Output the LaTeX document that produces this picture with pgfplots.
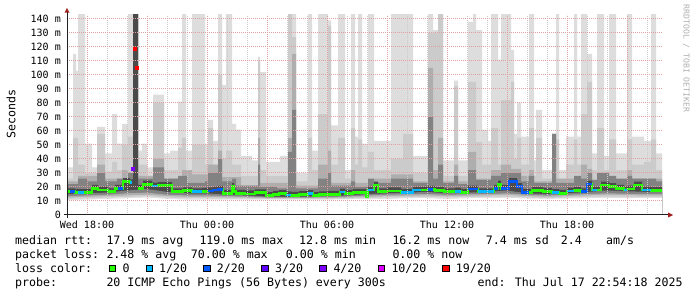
\documentclass[border=0pt]{standalone}
\usepackage{fontspec}
\setmainfont{DejaVu Sans Mono}
\usepackage{pgfplots}
\pgfplotsset{compat=1.18}
\usepackage{pgfplotstable}

\definecolor{sA}{HTML}{DDDDDD}
\definecolor{sB}{HTML}{CBCBCB}
\definecolor{sC}{HTML}{AEAEAE}
\definecolor{sD}{HTML}{828282}
\definecolor{sE}{HTML}{4A4A4A}
\definecolor{mgrid}{HTML}{E0A0A0}
\definecolor{ngrid}{HTML}{CACACA}
\definecolor{l0}{HTML}{26FF00}
\definecolor{l1}{HTML}{00B8FF}
\definecolor{l2}{HTML}{0059FF}
\definecolor{l3}{HTML}{5E00FF}
\definecolor{l4}{HTML}{7E00FF}
\definecolor{l10}{HTML}{DD00FF}
\definecolor{l19}{HTML}{FF0000}
\definecolor{axcol}{HTML}{202020}
\definecolor{arrcol}{HTML}{A02020}
\definecolor{wmcol}{HTML}{B0B0B0}

\newcommand\lfont{\fontsize{11.6bp}{13.9bp}\selectfont}
\newcommand\tfont{\fontsize{10bp}{12bp}\selectfont}

% lower edges of the smoke bands (ms), hourly
\pgfplotstableread{
h b4 b3 b2 b1 b0
-1 15.0 13.5 12.5 11.5 10.5
0 15.5 14.0 13.0 12.0 11.0
1 16.0 14.5 13.5 12.5 11.5
2 17.5 15.5 14.0 13.0 12.0
3 18.5 16.0 14.5 13.5 12.5
4 16.5 14.5 13.5 12.5 11.5
5 15.5 14.0 13.0 12.0 11.0
6 15.5 14.0 13.0 12.0 11.0
7 14.5 13.5 12.5 11.8 11.0
8 14.0 13.2 12.5 11.8 11.0
9 13.2 12.6 12.0 11.5 11.0
10 13.0 12.5 12.0 11.5 11.0
11 13.2 12.6 12.0 11.5 11.0
12 13.5 12.8 12.2 11.6 11.0
13 14.0 13.2 12.5 11.8 11.2
14 15.0 14.0 13.0 12.2 11.5
15 15.5 14.5 13.5 12.5 11.5
16 16.0 14.8 13.8 12.8 12.0
17 16.5 15.0 14.0 13.0 12.0
18 15.5 14.5 13.5 12.5 11.5
19 16.0 14.8 13.8 12.8 12.0
20 16.5 15.0 14.0 13.0 12.0
21 17.5 15.5 14.5 13.2 12.2
22 15.5 14.5 13.5 12.5 11.8
23 15.0 14.0 13.0 12.2 11.5
24 15.5 14.5 13.5 12.5 11.8
25 16.5 15.0 14.0 13.0 12.0
26 17.5 15.5 14.5 13.2 12.2
27 17.0 15.2 14.2 13.0 12.0
28 16.5 15.0 14.0 13.0 12.0
28.75 16.5 15.0 14.0 13.0 12.0
}\bottom

\begin{document}
\begin{tikzpicture}
\fill[white] (0,0) rectangle (697bp,297bp);
\path[use as bounding box] (0,0) rectangle (697bp,297bp);
\begin{axis}[
  at={(67bp,82bp)}, anchor=south west,
  scale only axis, width=595bp, height=200bp,
  xmin=-1, xmax=28.75, ymin=0, ymax=142.857,
  axis on top,
  axis line style={draw=none},
  tick style={draw=none},
  xtick={0,6,12,18,24},
  xticklabels={Wed 18:00,Thu 00:00,Thu 06:00,Thu 12:00,Thu 18:00},
  extra x ticks={3,9,15,21,27},
  extra x tick labels={},
  extra x tick style={grid=major},
  minor xtick={-1,1,2,4,5,7,8,10,11,13,14,16,17,19,20,22,23,25,26,28},
  ytick={0,10,...,140},
  yticklabels={0,10 m,20 m,30 m,40 m,50 m,60 m,70 m,80 m,90 m,100 m,110 m,120 m,130 m,140 m},
  xmajorgrids, xminorgrids, ymajorgrids,
  major grid style={draw=mgrid, line width=1bp, dash pattern=on 1bp off 1bp},
  minor grid style={draw=ngrid, line width=1bp, dash pattern=on 1bp off 1bp},
  xticklabel style={font=\tfont, anchor=base, inner sep=0pt, yshift=-13.5bp},
  yticklabel style={font=\tfont, anchor=east, inner sep=0pt, xshift=-6bp},
]
% lightest smoke (highest pings)
\addplot[const plot, fill=sA, draw=none] coordinates {
(-1.00,34) (-0.70,115) (-0.55,103) (-0.45,145) (-0.10,51) (0.25,34) (0.50,63) (0.90,44) (1.25,72) (1.50,51) (1.75,65) (2.05,145) (2.55,46) (2.75,51) (3.00,34) (3.30,86) (3.85,44) (4.15,46) (4.55,81) (4.75,145) (4.95,46) (5.25,145) (5.90,51) (6.05,68) (6.30,53) (6.55,145) (6.75,93) (6.95,145) (7.25,65) (7.45,61) (7.70,42) (8.25,39) (8.55,113) (8.65,102) (8.95,38) (9.65,42) (10.05,145) (10.45,30) (11.05,145) (11.25,46) (11.55,145) (12.05,139) (12.20,64) (12.55,145) (12.90,32) (13.20,145) (13.40,56) (13.55,145) (13.75,51) (14.05,145) (14.35,53) (15.20,145) (16.30,42) (17.05,145) (17.30,132) (17.55,145) (17.80,39) (18.35,96) (18.55,39) (19.05,138) (19.30,145) (19.45,132) (19.75,61) (20.05,53) (20.20,145) (20.55,111) (20.70,145) (21.20,118) (21.35,58) (21.50,80) (21.70,56) (22.10,145) (22.35,39) (22.45,75) (22.75,32) (23.25,58) (23.45,145) (23.60,32) (23.95,56) (24.35,145) (24.50,56) (24.70,145) (25.00,115) (25.25,44) (25.50,145) (25.85,42) (26.10,145) (26.45,44) (27.00,145) (27.25,56) (27.85,53) (28.20,145) (28.45,44) (28.75,44)
} \closedcycle;
\addplot[const plot, fill=sB, draw=none] coordinates {
(-1.00,26) (-0.70,55) (-0.45,36) (-0.10,30) (0.50,58) (0.90,31) (1.25,38) (1.50,32) (1.75,50) (2.05,56) (2.30,145) (2.55,36) (3.00,28) (3.30,80) (3.85,32) (4.55,48) (4.75,55) (4.95,32) (5.25,50) (5.90,36) (6.05,62) (6.30,36) (6.55,100) (6.75,40) (6.95,46) (7.25,36) (7.70,28) (8.55,110) (8.65,32) (8.95,28) (10.05,145) (10.25,127) (10.45,24) (11.05,55) (11.25,32) (11.55,72) (12.05,135) (12.20,36) (12.55,55) (12.90,26) (13.20,62) (13.40,36) (13.55,54) (13.75,34) (14.05,45) (14.35,32) (15.20,40) (15.80,58) (16.30,30) (17.05,130) (17.55,145) (17.80,28) (18.35,92) (18.55,28) (19.05,95) (19.45,52) (19.75,36) (20.20,62) (20.55,36) (20.70,82) (21.20,95) (21.35,40) (21.50,55) (21.70,36) (22.10,62) (22.35,28) (22.45,55) (22.75,26) (23.25,58) (23.45,54) (23.60,26) (23.95,36) (24.35,54) (24.50,36) (24.70,72) (25.00,95) (25.25,32) (25.50,62) (25.85,32) (26.10,54) (26.45,32) (27.00,54) (27.25,36) (27.85,38) (28.20,54) (28.45,32) (28.75,32)
} \closedcycle;
\addplot[const plot, fill=sC, draw=none] coordinates {
(-1.00,24) (-0.45,28) (0.50,36) (0.90,26) (1.75,32) (2.05,28) (2.30,145) (2.55,28) (3.30,40) (3.85,26) (4.75,32) (5.25,29) (6.05,36) (6.55,46) (6.75,27) (7.70,21) (8.55,55) (8.65,23) (10.05,55) (10.25,115) (10.45,21) (11.55,36) (12.05,46) (12.20,23) (13.20,32) (13.40,23) (14.35,26) (15.20,29) (16.30,24) (17.05,105) (17.30,32) (17.55,55) (17.80,24) (18.35,36) (18.55,24) (19.05,45) (19.45,26) (20.20,32) (20.70,36) (21.20,33) (21.70,28) (22.10,32) (22.35,24) (23.25,58) (23.45,26) (24.70,36) (25.00,33) (25.25,25) (27.00,32) (27.25,26) (28.75,26)
} \closedcycle;
\addplot[const plot, fill=sD, draw=none] coordinates {
(-1.00,22) (-0.45,26) (0.00,24) (0.50,30) (0.90,24) (1.50,26) (2.05,30) (2.30,145) (2.55,26) (3.30,34) (3.85,26) (4.55,28) (5.00,23) (5.90,24) (6.05,30) (6.55,40) (6.75,24) (7.25,26) (7.45,21) (8.55,36) (8.65,20) (9.50,19) (10.05,45) (10.25,75) (10.45,19) (11.55,26) (12.05,30) (12.20,21) (13.20,24) (13.40,20) (14.05,26) (14.35,23) (15.20,26) (16.30,23) (17.05,70) (17.30,26) (17.55,36) (17.80,23) (18.35,28) (18.55,22) (19.05,32) (19.45,25) (20.20,28) (20.70,30) (21.20,30) (21.70,24) (22.10,28) (22.35,23) (23.25,58) (23.45,23) (24.35,28) (24.70,26) (25.00,30) (25.25,25) (25.50,30) (26.10,28) (26.45,26) (27.00,28) (27.25,26) (28.20,26) (28.45,24) (28.75,24)
} \closedcycle;
\addplot[const plot, fill=sE, draw=none] coordinates {
(-1.00,19.1) (-0.60,18.4) (-0.10,18.5) (0.25,21.5) (0.55,20.3) (1.05,19.1) (1.40,21.5) (1.80,26.3) (2.15,25.5) (2.30,145) (2.55,21.5) (2.80,24.5) (3.25,23.2) (3.55,23.5) (4.25,19.1) (4.80,19.8) (5.25,19.1) (5.75,19.3) (6.05,19.7) (6.30,20.3) (6.55,20.8) (6.80,17.9) (7.25,22.7) (7.35,19.1) (7.45,17.9) (7.90,17.5) (8.40,18.3) (8.95,16.3) (9.30,17.2) (9.60,17.7) (9.95,16.8) (10.20,16.5) (10.60,17.1) (11.05,17.7) (11.30,16.3) (11.60,16.9) (12.05,17.2) (12.65,18.9) (12.90,17.9) (13.30,18.4) (13.95,15.6) (14.05,20.3) (14.35,23.9) (14.55,19.1) (15.00,19.7) (15.70,18.7) (16.30,20.3) (17.05,20.8) (17.40,20.1) (17.85,19.1) (18.40,19.5) (18.70,18.7) (19.05,21.0) (19.55,19.1) (20.35,21.5) (20.55,24.5) (20.70,21.5) (21.10,26.3) (21.50,22.7) (21.75,18.7) (22.25,19.9) (22.80,19.3) (23.25,18.4) (23.60,17.9) (24.00,19.6) (24.35,20.1) (24.70,19.1) (25.00,24.6) (25.25,20.3) (25.70,23.9) (26.10,22.7) (26.45,21.5) (26.85,20.3) (27.00,21.0) (27.35,23.9) (27.75,20.3) (28.20,19.9) (28.75,19.9)
} \closedcycle;
% lower edges of the smoke
\addplot[fill=sD, draw=none] table[x=h, y=b4] {\bottom} \closedcycle;
\addplot[fill=sC, draw=none] table[x=h, y=b3] {\bottom} \closedcycle;
\addplot[fill=sB, draw=none] table[x=h, y=b2] {\bottom} \closedcycle;
\addplot[fill=sA, draw=none] table[x=h, y=b1] {\bottom} \closedcycle;
\addplot[fill=white, draw=none] table[x=h, y=b0] {\bottom} \closedcycle;
% median rtt, 0 loss
\addplot[const plot, draw=l0, line width=2.8bp] coordinates {
(-1.00,16.6) (-0.60,15.9) (-0.10,16.0) (0.25,19.0) (0.55,17.8) (1.05,16.6) (1.40,19.0) (1.80,23.8) (2.15,23.0) (2.25,23.0)
};
\addplot[const plot, draw=l0, line width=2.8bp] coordinates {
(2.55,19.0) (2.80,22.0) (3.25,20.7) (3.55,21.0) (4.25,16.6) (4.80,17.3) (5.25,16.6) (5.75,16.8) (6.05,17.2) (6.30,17.8) (6.55,18.3) (6.80,15.4) (7.25,20.2) (7.35,16.6) (7.45,15.4) (7.90,15.0) (8.40,15.8) (8.95,13.8) (9.30,14.7) (9.60,15.2) (9.95,14.3) (10.20,14.0) (10.60,14.6) (11.05,15.2) (11.30,13.8) (11.60,14.4) (12.05,14.7) (12.65,16.4) (12.90,15.4) (13.30,15.9) (13.95,13.1) (14.05,17.8) (14.35,21.4) (14.55,16.6) (15.00,17.2) (15.70,16.2) (16.30,17.8) (17.05,18.3) (17.40,17.6) (17.85,16.6) (18.40,17.0) (18.70,16.2) (19.05,18.5) (19.55,16.6) (20.35,19.0) (20.55,22.0) (20.70,19.0) (21.10,23.8) (21.50,20.2) (21.75,16.2) (22.25,17.4) (22.80,16.8) (23.25,15.9) (23.60,15.4) (24.00,17.1) (24.35,17.6) (24.70,16.6) (25.00,22.1) (25.25,17.8) (25.70,21.4) (26.10,20.2) (26.45,19.0) (26.85,17.8) (27.00,18.5) (27.35,21.4) (27.75,17.8) (28.20,17.4) (28.75,17.4)
};
% median rtt, 1/20 loss
\addplot[draw=l1, line width=2.8bp, unbounded coords=jump] coordinates {
(-0.45,15.9) (-0.15,15.9) (0,nan)
(2.15,23.0) (2.25,23.0) (2.3,nan)
(3.25,20.7) (3.55,20.7) (3.6,nan)
(5.25,16.6) (5.75,16.6) (5.8,nan)
(9.95,14.3) (10.20,14.3) (10.3,nan)
(11.05,15.2) (11.30,15.2) (11.4,nan)
(12.65,16.4) (12.90,16.4) (13.0,nan)
(14.05,17.8) (14.35,17.8) (14.4,nan)
(15.70,16.2) (16.30,16.2) (16.30,17.8) (16.70,17.8) (16.8,nan)
(18.40,17.0) (18.70,17.0) (18.8,nan)
(19.55,16.6) (20.35,16.6) (20.4,nan)
(23.25,15.9) (23.60,15.9) (23.7,nan)
(24.00,17.1) (24.35,17.1) (24.4,nan)
(25.25,17.8) (25.50,17.8) (25.6,nan)
(26.85,17.8) (27.00,17.8) (27.1,nan)
(27.75,17.8) (28.20,17.8)
};
% median rtt, 2/20 loss
\addplot[draw=l2, line width=2.8bp, unbounded coords=jump] coordinates {
(-0.85,16.6) (-0.60,16.6) (-0.5,nan)
(1.55,19.0) (1.80,19.0) (1.9,nan)
(6.05,17.2) (6.30,17.2) (6.30,17.8) (6.55,17.8) (6.55,18.3) (6.80,18.3) (6.9,nan)
(17.05,18.3) (17.30,18.3) (17.4,nan)
(19.05,18.5) (19.55,18.5) (19.6,nan)
(20.35,19.0) (20.55,19.0) (20.6,nan)
(20.70,19.0) (21.10,19.0) (21.10,23.8) (21.50,23.8) (21.50,20.2) (21.75,20.2) (21.75,16.2) (22.10,16.2) (22.2,nan)
(24.70,16.6) (25.00,16.6) (25.00,22.1) (25.25,22.1)
};
% isolated high-loss medians
\addplot[only marks, mark=square*, mark size=1.5bp, color=l19] coordinates {(2.37,119) (2.50,105)};
\addplot[only marks, mark=square*, mark size=1.3bp, color=l4] coordinates {(2.28,33)};
\end{axis}

% axes
\draw[axcol, line width=1bp] (64bp,82bp) -- (668bp,82bp);
\fill[arrcol] (668bp,84.5bp) -- (673bp,82bp) -- (668bp,79.5bp) -- cycle;
\draw[axcol, line width=1bp] (67bp,79bp) -- (67bp,284.5bp);
\fill[arrcol] (64.5bp,284.3bp) -- (67bp,289bp) -- (69.5bp,284.3bp) -- cycle;

% y label and watermark
\node[rotate=90, font=\lfont, anchor=center, inner sep=0pt] at (11bp,183bp) {Seconds};
\node[rotate=-90, font=\fontsize{8.1bp}{9bp}\selectfont, text=wmcol, anchor=center, inner sep=0pt] at (686.3bp,238.5bp) {RRDTOOL / TOBI OETIKER};

% legend lines
\begin{scope}[every node/.style={anchor=base west, inner sep=0pt, font=\lfont}]
\node at (15bp,52bp) {median rtt:};
\node at (106.3bp,52bp) {17.9 ms avg};
\node at (199.3bp,52bp) {119.0 ms max};
\node at (299bp,52bp) {12.8 ms min};
\node at (392.3bp,52bp) {16.2 ms now};
\node at (485.7bp,52bp) {7.4 ms sd};
\node at (560.7bp,52bp) {2.4};
\node at (606bp,52bp) {am/s};

\node at (15bp,38.2bp) {packet loss:};
\node at (106.3bp,38.2bp) {2.48 \% avg};
\node at (190.7bp,38.2bp) {70.00 \% max};
\node at (285.7bp,38.2bp) {0.00 \% min};
\node at (392.3bp,38.2bp) {0.00 \% now};

\node at (15bp,24.3bp) {loss color:};
\node at (122.3bp,24.3bp) {0};
\node at (159bp,24.3bp) {1/20};
\node at (216.7bp,24.3bp) {2/20};
\node at (275bp,24.3bp) {3/20};
\node at (333.3bp,24.3bp) {4/20};
\node at (391.3bp,24.3bp) {10/20};
\node at (455.7bp,24.3bp) {19/20};

\node at (15bp,10.7bp) {probe:};
\node at (106.3bp,10.7bp) {20 ICMP Echo Pings (56 Bytes) every 300s};
\node at (477.5bp,10.7bp) {end: Thu Jul 17 22:54:18 2025};
\end{scope}
\begin{scope}[line width=1bp, draw=black]
\filldraw[fill=l0] (109.2bp,25bp) rectangle (115.7bp,31.5bp);
\filldraw[fill=l1] (146.2bp,25bp) rectangle (152.7bp,31.5bp);
\filldraw[fill=l2] (203.8bp,25bp) rectangle (210.3bp,31.5bp);
\filldraw[fill=l3] (261.5bp,25bp) rectangle (268bp,31.5bp);
\filldraw[fill=l4] (319.8bp,25bp) rectangle (326.3bp,31.5bp);
\filldraw[fill=l10] (378.2bp,25bp) rectangle (384.7bp,31.5bp);
\filldraw[fill=l19] (442.8bp,25bp) rectangle (449.3bp,31.5bp);
\end{scope}
\end{tikzpicture}
\end{document}
